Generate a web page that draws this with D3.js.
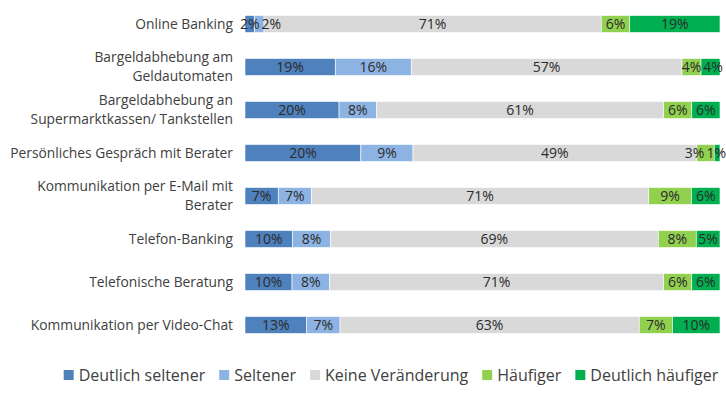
<!DOCTYPE html>
<html>
<head>
<meta charset="utf-8">
<script src="https://cdn.jsdelivr.net/npm/d3@7"></script>
<style>
  body { margin: 0; background: #fff; }
  svg text { font-family: "Open Sans", "Liberation Sans", sans-serif; }
</style>
</head>
<body>
<div id="chart"></div>
<script>
// Categories (top to bottom); "\n" marks a line break in the label
const categories = [
    'Online Banking',
    'Bargeldabhebung am\nGeldautomaten',
    'Bargeldabhebung an\nSupermarktkassen/ Tankstellen',
    'Persönliches Gespräch mit Berater',
    'Kommunikation per E-Mail mit\nBerater',
    'Telefon-Banking',
    'Telefonische Beratung',
    'Kommunikation per Video-Chat'
];

const seriesNames = ['Deutlich seltener', 'Seltener', 'Keine Veränderung', 'Häufiger', 'Deutlich häufiger'];
const seriesColors = ['#4f81bd', '#8db3e2', '#d9d9d9', '#92d050', '#00b050'];

// Values in %, one array per series (same order as categories)
const deutlichSeltener = [2, 19, 20, 20, 7, 10, 10, 13];
const seltener         = [2, 16, 8, 9, 7, 8, 8, 7];
const keineVeraenderung = [71, 57, 61, 49, 71, 69, 71, 63];
const haeufiger        = [6, 4, 6, 3, 9, 8, 6, 7];
const deutlichHaeufiger = [19, 4, 6, 1, 6, 5, 6, 10];

const seriesValues = [deutlichSeltener, seltener, keineVeraenderung, haeufiger, deutlichHaeufiger];

const width = 726;
const height = 397;

const rows = categories.map((c, i) => {
    const row = { category: c };
    seriesNames.forEach((s, j) => { row[s] = seriesValues[j][i]; });
    return row;
});

const svg = d3.select('#chart')
    .append('svg')
    .attr('width', width)
    .attr('height', height);

// 100% stacked layout
const stack = d3.stack()
    .keys(seriesNames)
    .offset(d3.stackOffsetExpand);
const stacked = stack(rows);

const x = d3.scaleLinear().domain([0, 1]).range([245, 720]);
const y = d3.scaleBand().domain(categories).range([2.5, 346.5]);
const barH = 17;
const color = d3.scaleOrdinal().domain(seriesNames).range(seriesColors);

// Bars
const layers = svg.append('g')
    .selectAll('g')
    .data(stacked)
    .enter()
    .append('g')
    .attr('fill', d => color(d.key));

layers.selectAll('rect')
    .data(d => d.map(v => ({ key: d.key, v: v })))
    .enter()
    .append('rect')
    .attr('x', d => x(d.v[0]))
    .attr('y', d => y(d.v.data.category) + y.bandwidth() / 2 - barH / 2)
    .attr('width', d => x(d.v[1]) - x(d.v[0]))
    .attr('height', barH)
    .attr('stroke', '#fff')
    .attr('stroke-width', 0.6);

// Data labels, nudged so neighbours do not overlap
const labelG = svg.append('g')
    .style('font-size', '14px')
    .style('fill', '#2b2b2b');

categories.forEach((cat, i) => {
    const cy = y(cat) + y.bandwidth() / 2;
    const labels = stacked.map(layer => {
        const seg = layer[i];
        const t = labelG.append('text')
            .attr('text-anchor', 'middle')
            .attr('dy', '0.36em')
            .attr('y', cy)
            .text(layer[i].data[layer.key] + '%');
        return { t: t, cx: (x(seg[0]) + x(seg[1])) / 2, w: t.node().getComputedTextLength() };
    });
    const gap = 2;
    for (let k = 1; k < labels.length; k++) {
        const prev = labels[k - 1];
        const minC = prev.cx + prev.w / 2 + gap + labels[k].w / 2;
        if (labels[k].cx < minC) labels[k].cx = minC;
    }
    const last = labels[labels.length - 1];
    if (last.cx + last.w / 2 > width) last.cx = width - last.w / 2;
    for (let k = labels.length - 2; k >= 0; k--) {
        const next = labels[k + 1];
        const maxC = next.cx - next.w / 2 - gap - labels[k].w / 2;
        if (labels[k].cx > maxC) labels[k].cx = maxC;
    }
    labels.forEach(l => l.t.attr('x', l.cx));
});

// Category labels
const catG = svg.append('g')
    .style('font-size', '13.8px')
    .style('fill', '#404040');

categories.forEach(cat => {
    const lines = cat.split('\n');
    const cy = y(cat) + y.bandwidth() / 2;
    const lineH = 19;
    const t = catG.append('text')
        .attr('text-anchor', 'end')
        .attr('y', cy - (lines.length - 1) * lineH / 2);
    lines.forEach((ln, k) => {
        t.append('tspan')
            .attr('x', 233)
            .attr('dy', k === 0 ? '0.36em' : lineH)
            .text(ln);
    });
});

// Legend
const legend = svg.append('g')
    .style('font-size', '16px')
    .style('fill', '#404040');

let lx = 0;
seriesNames.forEach(name => {
    const g = legend.append('g');
    g.append('rect')
        .attr('width', 10)
        .attr('height', 10)
        .attr('y', -5)
        .attr('fill', color(name));
    const t = g.append('text')
        .attr('x', 15)
        .attr('dy', '0.36em')
        .text(name);
    const w = 15 + t.node().getComputedTextLength();
    g.attr('transform', `translate(${lx},0)`);
    lx += w + 14;
});
const legendW = lx - 14;
legend.attr('transform', `translate(${391 - legendW / 2},375)`);
</script>
</body>
</html>
